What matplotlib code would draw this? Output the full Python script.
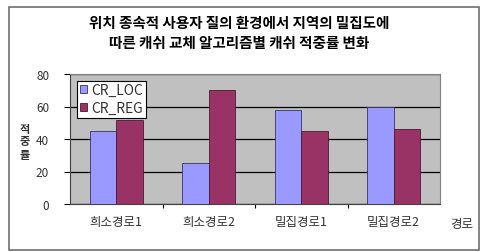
import matplotlib

matplotlib.use("Agg")
import matplotlib.pyplot as plt
import numpy as np
from matplotlib.patches import Rectangle

plt.rcParams["font.family"] = ["Noto Sans CJK KR", "DejaVu Sans"]

categories = ["희소경로1", "희소경로2", "밀집경로1", "밀집경로2"]
cr_loc = [45, 25, 58, 60]
cr_reg = [52, 70, 45, 46]
series_names = ["CR_LOC", "CR_REG"]
yticks = [0, 20, 40, 60, 80]
title = "위치 종속적 사용자 질의 환경에서 지역의 밀집도에\n따른 캐쉬 교체 알고리즘별 캐쉬 적중률 변화"

W, H = 482, 253
fig = plt.figure(figsize=(W / 100, H / 100), dpi=100)

# outer chart border
fig.patches.append(Rectangle((9 / W, 1 - 251 / H), 470 / W, 243 / H,
                             transform=fig.transFigure, fill=False,
                             edgecolor="#707070", lw=1.2))

ax = fig.add_axes([70 / W, 1 - 205 / H, 370 / W, 130 / H])
ax.set_facecolor("#c0c0c0")

x = np.arange(len(categories)) + 0.5
w = 1 / 3.5
ax.bar(x - w / 2, cr_loc, w, color="#9999ff", edgecolor="#333366", lw=0.6,
       label=series_names[0], zorder=3)
ax.bar(x + w / 2, cr_reg, w, color="#993366", edgecolor="#4a1a30", lw=0.6,
       label=series_names[1], zorder=3)

ax.set_xlim(0, len(categories))
ax.set_ylim(0, 80)
ax.set_yticks(yticks)
ax.tick_params(axis="y", length=4, width=0.8, pad=11, labelsize=8.5,
               labelcolor="#333333")
ax.set_xticks(x)
ax.set_xticklabels(categories)
ax.set_xticks(np.arange(1, len(categories)), minor=True)
ax.tick_params(axis="x", which="major", length=0, pad=8, labelsize=9,
               labelcolor="#333333")
ax.tick_params(axis="x", which="minor", length=3, width=0.8)
ax.grid(axis="y", color="black", lw=0.9, zorder=1)

for side in ["top", "right"]:
    ax.spines[side].set_color("#808080")
for side in ["left", "bottom"]:
    ax.spines[side].set_color("#404040")

leg = ax.legend(loc="upper left", bbox_to_anchor=(0.02, 0.95), fontsize=10,
                frameon=True, fancybox=False, framealpha=1, edgecolor="black",
                handlelength=0.5, handleheight=0.5, handletextpad=0.3,
                borderpad=0.2, labelspacing=0.25, borderaxespad=0)
leg.get_frame().set_linewidth(0.8)
for t in leg.get_texts():
    t.set_color("#333333")

fig.text(239 / W, 1 - 33 / H, title, ha="center", va="center",
         fontsize=10.5, fontweight="bold", linespacing=1.3)
fig.text(25 / W, 1 - 142 / H, "적\n중\n률", ha="center", va="center",
         fontsize=8, fontweight="bold", linespacing=1.0, color="#333333")
fig.text(462 / W, 1 - 225 / H, "경로", ha="center", va="center",
         fontsize=9, color="#333333")

fig.savefig("out.png", dpi=100)
plt.close(fig)
